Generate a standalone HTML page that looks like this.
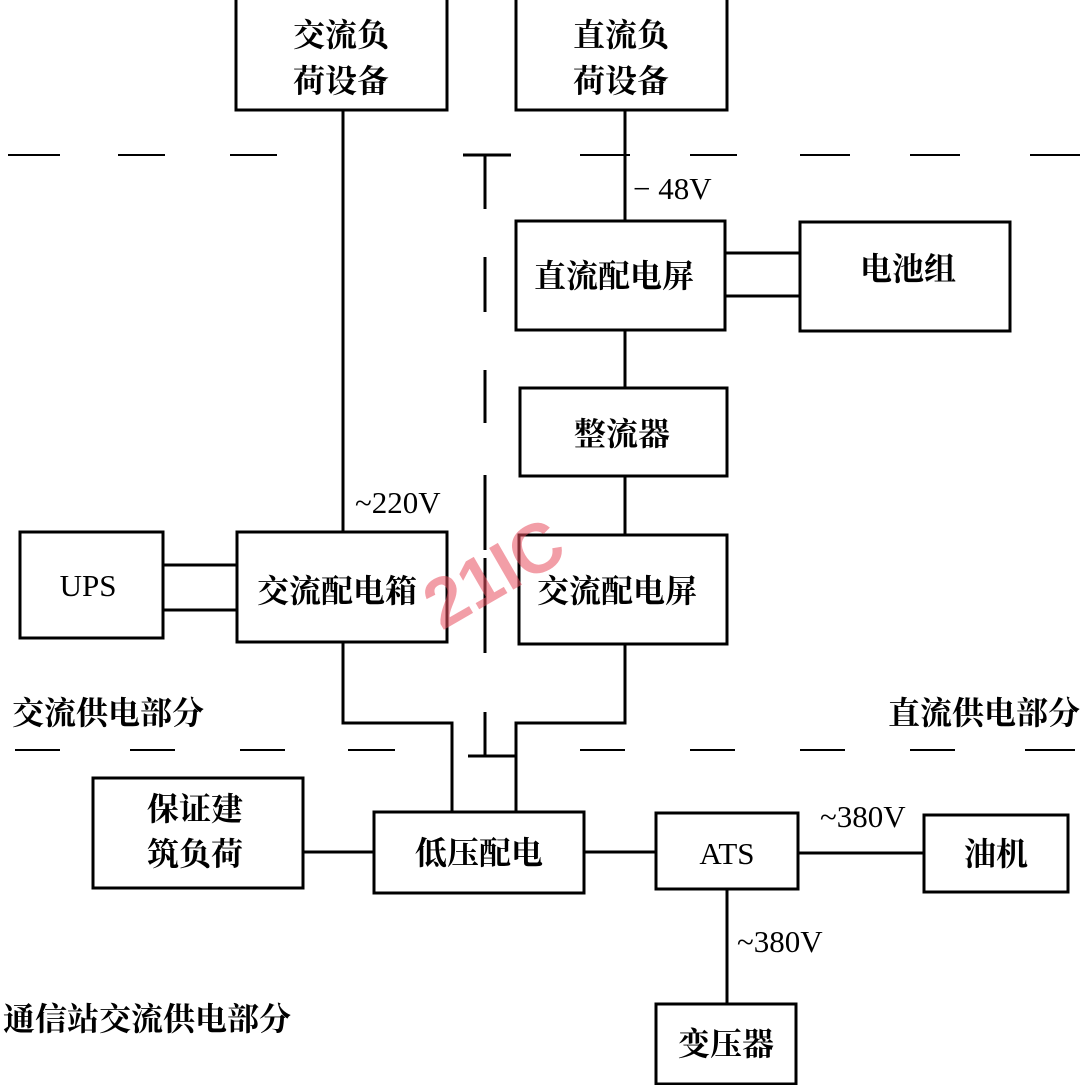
<!DOCTYPE html>
<html><head><meta charset="utf-8"><style>
body{margin:0;background:#fff}
svg{display:block}
text{font-family:"Liberation Serif","Noto Serif CJK SC",serif;font-size:32px;fill:#000;font-weight:bold}
text.n{font-weight:normal;font-size:31px}
</style></head><body>
<svg width="1083" height="1085" viewBox="0 0 1083 1085">
<g fill="none" stroke="#000" stroke-width="3">
<rect x="236" y="-2" width="211" height="112"/>
<rect x="516" y="-2" width="211" height="112"/>
<rect x="516" y="221" width="209" height="109"/>
<rect x="800" y="222" width="210" height="109"/>
<rect x="520" y="388" width="207" height="88"/>
<rect x="20" y="532" width="143" height="106"/>
<rect x="237" y="532" width="210" height="110"/>
<rect x="519" y="535" width="208" height="109"/>
<rect x="93" y="778" width="210" height="110"/>
<rect x="374" y="812" width="210" height="81"/>
<rect x="656" y="813" width="142" height="76"/>
<rect x="924" y="815" width="144" height="77"/>
<rect x="656" y="1004" width="140" height="80"/>
<path d="M343 110V532 M625 110V221 M625 330V388 M625 476V535"/>
<path d="M163 565H237 M163 610H237 M725 253H800 M725 296H800"/>
<path d="M343 642V723H452V812 M625 644V723H516V812"/>
<path d="M303 852H374 M584 852H656 M798 853H924 M727 889V1004"/>
<path d="M463 155H511 M468 756H516"/>
<path d="M485 155V209 M485 257V312 M485 370V423 M485 475V550 M485 558V653 M485 712V756"/>
<path d="M8 155H60 M118 155H165 M230 155H277 M580 155H630 M690 155H737 M800 155H850 M910 155H960 M1030 155H1080" stroke-width="2"/>
<path d="M15 750H60 M130 750H175 M240 750H285 M348 750H395 M580 750H625 M690 750H735 M800 750H845 M910 750H955 M1025 750H1075" stroke-width="2"/>
</g>
<text x="341" y="46" text-anchor="middle">交流负</text>
<text x="341" y="92" text-anchor="middle">荷设备</text>
<text x="621" y="46" text-anchor="middle">直流负</text>
<text x="621" y="92" text-anchor="middle">荷设备</text>
<text x="614" y="287" text-anchor="middle">直流配电屏</text>
<text x="908" y="280" text-anchor="middle">电池组</text>
<text x="622" y="445" text-anchor="middle">整流器</text>
<text class="n" x="88" y="596" text-anchor="middle">UPS</text>
<text x="337" y="602" text-anchor="middle">交流配电箱</text>
<text x="617" y="602" text-anchor="middle">交流配电屏</text>
<text x="195" y="820" text-anchor="middle">保证建</text>
<text x="195" y="865" text-anchor="middle">筑负荷</text>
<text x="479" y="864" text-anchor="middle">低压配电</text>
<text class="n" x="727" y="864" text-anchor="middle">ATS</text>
<text x="996" y="865" text-anchor="middle">油机</text>
<text x="726" y="1055" text-anchor="middle">变压器</text>
<text class="n" x="355" y="513">~220V</text>
<text class="n" x="633" y="199">− 48V</text>
<text class="n" x="820" y="827">~380V</text>
<text class="n" x="737" y="952">~380V</text>
<text x="12" y="724">交流供电部分</text>
<text x="1080" y="724" text-anchor="end">直流供电部分</text>
<text x="3" y="1030">通信站交流供电部分</text>
<text x="420" y="610" style="font-family:'Liberation Sans',sans-serif;font-weight:bold;font-size:70px;fill:#e85060;opacity:0.55" transform="rotate(-30 470 580)">21IC</text>
</svg>
</body></html>
